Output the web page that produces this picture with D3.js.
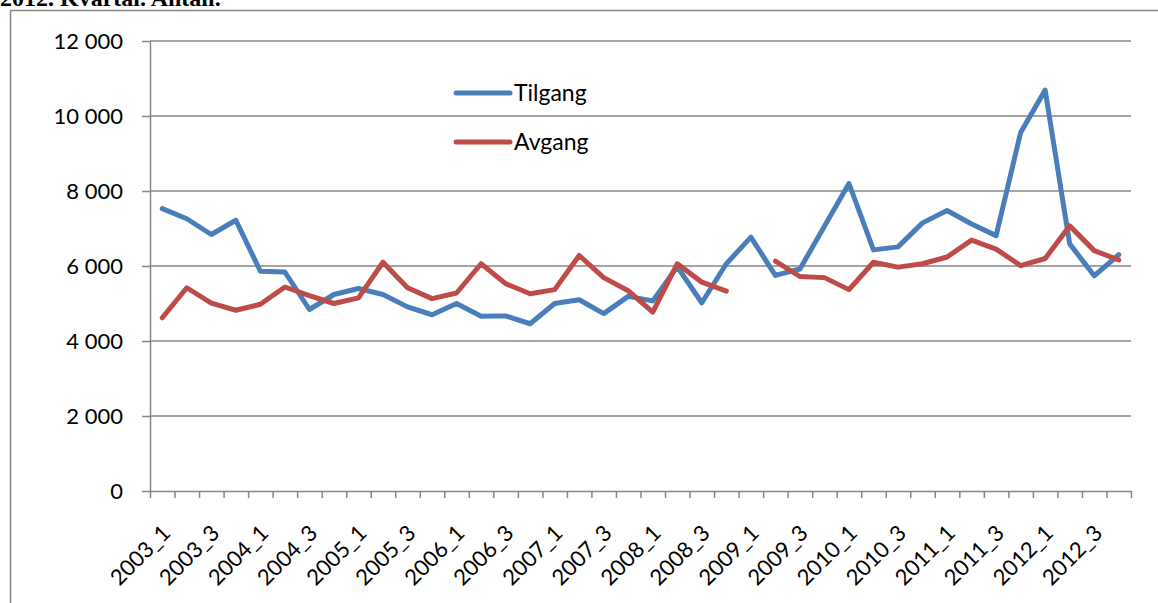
<!DOCTYPE html>
<html>
<head>
<meta charset="utf-8">
<script src="https://cdn.jsdelivr.net/npm/d3@7"></script>
<style>
  body { margin: 0; background: #fff; }
  svg { display: block; }
  text { font-family: Lato, "Liberation Sans", sans-serif; fill: #000; }
</style>
</head>
<body>
<div id="chart"></div>
<script>
// Data
const quarters = [
  "2003_1","2003_2","2003_3","2003_4","2004_1","2004_2","2004_3","2004_4",
  "2005_1","2005_2","2005_3","2005_4","2006_1","2006_2","2006_3","2006_4",
  "2007_1","2007_2","2007_3","2007_4","2008_1","2008_2","2008_3","2008_4",
  "2009_1","2009_2","2009_3","2009_4","2010_1","2010_2","2010_3","2010_4",
  "2011_1","2011_2","2011_3","2011_4","2012_1","2012_2","2012_3","2012_4"
];
const tilgang = [
  7530, 7260, 6840, 7220, 5860, 5840, 4840, 5240,
  5400, 5240, 4910, 4700, 5000, 4660, 4670, 4460,
  5000, 5100, 4730, 5190, 5070, 5980, 5020, 6060,
  6770, 5750, 5920, 7060, 8200, 6430, 6510, 7150,
  7480, 7120, 6810, 9560, 10690, 6590, 5740, 6300
];
const avgang = [
  4620, 5420, 5010, 4820, 4980, 5440, 5210, 5000,
  5150, 6100, 5420, 5130, 5280, 6060, 5530, 5260,
  5370, 6280, 5690, 5340, 4770, 6060, 5570, 5330,
  null, 6130, 5720, 5690, 5370, 6100, 5970, 6060,
  6240, 6690, 6450, 6010, 6200, 7070, 6410, 6160
];
const yTicks = [0, 2000, 4000, 6000, 8000, 10000, 12000];
const seriesNames = ["Tilgang", "Avgang"];

// 1. layout
const width = 1158;
const height = 603;
const margin = { top: 41, right: 27, bottom: 112, left: 150 };
const plotW = width - margin.left - margin.right;
const plotH = height - margin.top - margin.bottom;
const colors = { Tilgang: "#4a7ebb", Avgang: "#be4b48" };
const gridColor = "#868686";

const svg = d3.select("#chart").append("svg")
  .attr("width", width)
  .attr("height", height);

// title remnant (cut at the top edge, as in the source) and frame
svg.append("text")
  .attr("x", 0)
  .attr("y", 6)
  .style("font-family", "'Liberation Serif', 'Times New Roman', serif")
  .style("font-weight", "bold")
  .style("font-size", "24px")
  .text("2012.  Kvartal. Antall.");

svg.append("path")
  .attr("d", `M10.5,${height}V10.5H${width}`)
  .attr("fill", "none")
  .attr("stroke", gridColor)
  .attr("stroke-width", 1.5);

const chart = svg.append("g")
  .attr("transform", `translate(${margin.left},${margin.top})`);

// 2. scales
const x = d3.scaleBand().domain(quarters).range([0, plotW]).padding(0);
const xEdge = d3.scaleLinear().domain([0, quarters.length]).range([0, plotW]);
const y = d3.scaleLinear().domain([0, 12000]).range([plotH, 0]);
const fmt = v => d3.format(",")(v).replace(/,/g, " ");

// gridlines
chart.append("g")
  .selectAll("line")
  .data(yTicks.filter(v => v > 0))
  .enter()
  .append("line")
  .attr("x1", 0)
  .attr("x2", plotW)
  .attr("y1", d => y(d))
  .attr("y2", d => y(d))
  .attr("stroke", gridColor)
  .attr("stroke-width", 1.5);

// y axis
const yAxis = chart.append("g")
  .call(d3.axisLeft(y).tickValues(yTicks).tickFormat(fmt).tickSize(8).tickSizeOuter(0).tickPadding(19));
yAxis.select(".domain").attr("stroke", gridColor).attr("stroke-width", 1.5);
yAxis.selectAll(".tick line").attr("stroke", gridColor).attr("stroke-width", 1.5);
yAxis.selectAll(".tick text")
  .style("font-size", "22px")
  .style("font-family", "Lato, sans-serif")
  .attr("fill", "#000");

// x axis ticks at category edges
const xAxis = chart.append("g")
  .attr("transform", `translate(0,${plotH})`)
  .call(d3.axisBottom(xEdge).tickValues(d3.range(quarters.length + 1)).tickFormat("").tickSize(7).tickSizeOuter(0));
xAxis.select(".domain").attr("stroke", gridColor).attr("stroke-width", 1.5);
xAxis.selectAll(".tick line").attr("stroke", gridColor).attr("stroke-width", 1.5);

// x labels, every other quarter, rotated
chart.append("g")
  .selectAll("text")
  .data(quarters.filter((q, i) => i % 2 === 0))
  .enter()
  .append("text")
  .attr("transform", d => `translate(${x(d) + x.bandwidth() / 2 + 4},${plotH + 38}) rotate(-45)`)
  .attr("text-anchor", "end")
  .attr("dy", "0.35em")
  .style("font-size", "22px")
  .text(d => d);

// lines
const series = [
  { name: "Tilgang", values: tilgang },
  { name: "Avgang", values: avgang }
];
const line = d3.line()
  .defined(d => d != null)
  .x((d, i) => x(quarters[i]) + x.bandwidth() / 2)
  .y(d => y(d));

chart.selectAll(".series")
  .data(series)
  .enter()
  .append("path")
  .attr("class", "series")
  .attr("fill", "none")
  .attr("stroke", d => colors[d.name])
  .attr("stroke-width", 5)
  .attr("stroke-linejoin", "round")
  .attr("stroke-linecap", "round")
  .attr("d", d => line(d.values));

// legend
const legend = svg.append("g")
  .selectAll("g")
  .data(seriesNames)
  .enter()
  .append("g")
  .attr("transform", (d, i) => `translate(456,${93 + i * 49})`);
legend.append("line")
  .attr("x1", 0)
  .attr("x2", 54)
  .attr("stroke", d => colors[d])
  .attr("stroke-width", 5)
  .attr("stroke-linecap", "round");
legend.append("text")
  .attr("x", 58)
  .attr("dy", "0.35em")
  .style("font-size", "23px")
  .text(d => d);
</script>
</body>
</html>
